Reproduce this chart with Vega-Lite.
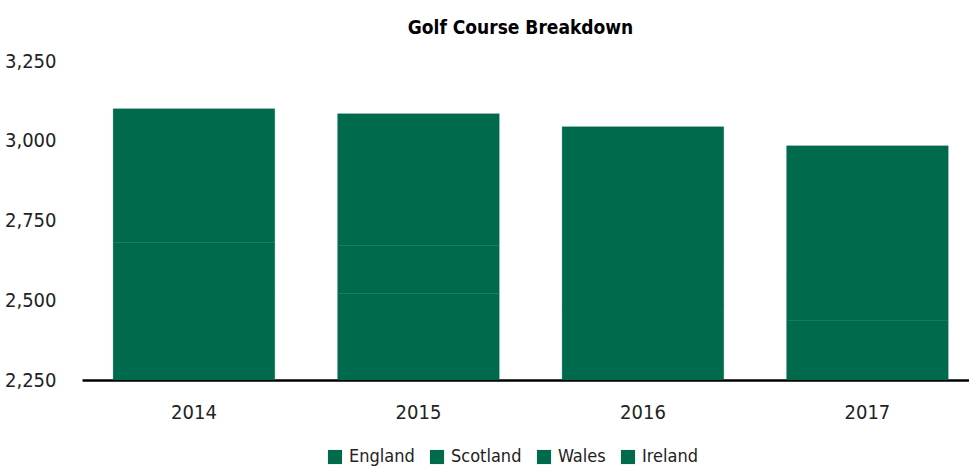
{
  "$schema": "https://vega.github.io/schema/vega-lite/v6.json",
  "autosize": {"type": "none"},
  "padding": {"left": 82, "top": 61, "right": 0, "bottom": 88},
  "width": 887,
  "height": 319,
  "background": "white",
  "config": {
    "font": "DejaVu Sans Condensed",
    "view": {"stroke": null}
  },
  "title": {
    "text": "Golf Course Breakdown",
    "fontSize": 19,
    "fontWeight": "bold",
    "font": "DejaVu Sans Condensed",
    "color": "#000000",
    "anchor": "middle",
    "offset": 13,
    "dx": -5
  },
  "data": {
    "values": [
      {"year": "2014", "country": "England", "rank": 1, "courses": 1939},
      {"year": "2014", "country": "Scotland", "rank": 2, "courses": 587},
      {"year": "2014", "country": "Wales", "rank": 3, "courses": 154},
      {"year": "2014", "country": "Ireland", "rank": 4, "courses": 420},
      {"year": "2015", "country": "England", "rank": 1, "courses": 1940},
      {"year": "2015", "country": "Scotland", "rank": 2, "courses": 580},
      {"year": "2015", "country": "Wales", "rank": 3, "courses": 151},
      {"year": "2015", "country": "Ireland", "rank": 4, "courses": 414},
      {"year": "2016", "country": "England", "rank": 1, "courses": 1910},
      {"year": "2016", "country": "Scotland", "rank": 2, "courses": 575},
      {"year": "2016", "country": "Wales", "rank": 3, "courses": 154},
      {"year": "2016", "country": "Ireland", "rank": 4, "courses": 405},
      {"year": "2017", "country": "England", "rank": 1, "courses": 1866},
      {"year": "2017", "country": "Scotland", "rank": 2, "courses": 570},
      {"year": "2017", "country": "Wales", "rank": 3, "courses": 143},
      {"year": "2017", "country": "Ireland", "rank": 4, "courses": 405}
    ]
  },
  "mark": {"type": "bar", "clip": true, "color": "#006a4d", "stroke": "#006a4d", "strokeWidth": 0.3},
  "encoding": {
    "x": {
      "field": "year",
      "type": "ordinal",
      "scale": {"paddingInner": 0.28, "paddingOuter": 0.1156, "align": 0.6},
      "axis": {
        "title": null,
        "labelAngle": 0,
        "labelFontSize": 20,
        "labelColor": "#222222",
        "labelPadding": 22,
        "ticks": false,
        "domainColor": "#000000",
        "domainWidth": 2.5
      }
    },
    "y": {
      "field": "courses",
      "type": "quantitative",
      "aggregate": "sum",
      "stack": "zero",
      "scale": {"domain": [2250, 3250], "nice": false, "zero": false},
      "axis": {
        "title": null,
        "values": [2250, 2500, 2750, 3000, 3250],
        "format": ",.0f",
        "labelFontSize": 20,
        "labelColor": "#222222",
        "labelPadding": 26,
        "ticks": false,
        "domain": false,
        "grid": false
      }
    },
    "color": {
      "field": "country",
      "type": "nominal",
      "sort": ["England", "Scotland", "Wales", "Ireland"],
      "scale": {
        "domain": ["England", "Scotland", "Wales", "Ireland"],
        "range": ["#006a4d", "#006a4d", "#006a4d", "#006a4d"]
      },
      "legend": {
        "title": null,
        "orient": "none",
        "legendX": 244,
        "legendY": 387,
        "direction": "horizontal",
        "symbolType": "square",
        "symbolSize": 200,
        "symbolStrokeWidth": 0,
        "labelFontSize": 18,
        "labelColor": "#222222",
        "labelOffset": 5,
        "columnPadding": 13
      }
    },
    "order": {"field": "rank", "type": "quantitative", "sort": "ascending"}
  }
}
